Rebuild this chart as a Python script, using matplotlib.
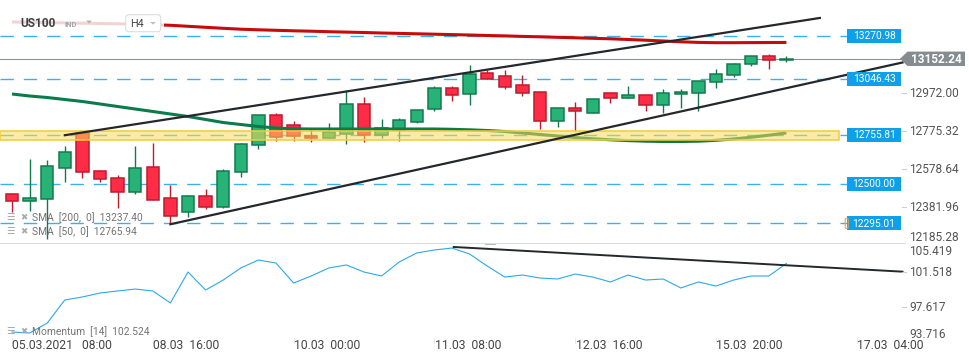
import matplotlib
matplotlib.use('Agg')
import matplotlib.pyplot as plt
import matplotlib.transforms as mtransforms
from matplotlib.patches import Rectangle, Polygon, FancyBboxPatch
from matplotlib.lines import Line2D

plt.rcParams['font.family'] = ['Roboto', 'DejaVu Sans']
plt.rcParams['lines.scale_dashes'] = False

# ---------------- data ----------------
symbol = 'US100'
symbol_type = 'IND'
timeframe = 'H4'

opens  = [12446, 12411, 12420, 12585, 12765, 12566, 12530, 12460, 12587, 12425,
          12353, 12436, 12381, 12560, 12701, 12858, 12806, 12750, 12738, 12759,
          12915, 12755, 12783, 12825, 12889, 12998, 12968, 13077, 13061, 13014,
          12978, 12826, 12894, 12871, 12973, 12947, 12962, 12910, 12968, 12973,
          13030, 13066, 13124, 13165, 13144.5]
highs  = [12455, 12630, 12623, 12699, 12767, 12573, 12546, 12697, 12713, 12495,
          12442, 12474, 12576, 12713, 12859, 12868, 12828, 12790, 12817, 12988,
          12953, 12838, 12842, 12884, 13009, 13009, 13120, 13094, 13094, 13068,
          12978, 12894, 12927, 12941, 12973, 13010, 12962, 12993, 12993, 13035,
          13099, 13129, 13165, 13175, 13165]
lows   = [12356, 12359, 12213, 12512, 12530, 12512, 12376, 12449, 12418, 12295,
          12330, 12370, 12373, 12538, 12684, 12724, 12725, 12720, 12738, 12706,
          12720, 12738, 12725, 12818, 12882, 12934, 12912, 13045, 12996, 12960,
          12787, 12799, 12778, 12871, 12924, 12947, 12882, 12871, 12897, 12882,
          13001, 13059, 13117, 13101, 13134]
closes = [12411, 12425, 12592, 12665, 12561, 12524, 12457, 12582, 12418, 12332,
          12436, 12381, 12566, 12706, 12858, 12746, 12750, 12738, 12769, 12915,
          12755, 12790, 12832, 12884, 12998, 12962, 13072, 13045, 13007, 12973,
          12826, 12894, 12878, 12941, 12947, 12962, 12910, 12973, 12978, 13035,
          13072, 13124, 13165, 13144.5, 13152.24]

sma200 = [13343.9, 13342.4, 13340.8, 13339.3, 13337.7, 13336.1, 13334.6, 13332.5, 13329.9, 13326.8,
          13321.6, 13316.3, 13311.1, 13306.4, 13303.3, 13300.7, 13298.1, 13296.0, 13293.4, 13291.3,
          13289.2, 13286.6, 13284.6, 13282.5, 13280.4, 13278.3, 13276.2, 13273.6, 13271.5, 13268.9,
          13266.8, 13264.2, 13261.6, 13259.0, 13256.4, 13252.8, 13249.1, 13245.0, 13240.8, 13237.7,
          13236.1, 13236.1, 13236.6, 13237.1, 13237.40]
sma50 = [12968.8, 12958.3, 12950.5, 12940.1, 12929.7, 12916.7, 12903.6, 12890.6, 12877.6, 12864.5,
         12851.5, 12835.9, 12820.2, 12809.8, 12799.4, 12791.6, 12787.4, 12786.4, 12786.4, 12786.4,
         12786.4, 12786.4, 12786.4, 12786.4, 12786.4, 12784.8, 12782.2, 12778.5, 12773.3, 12765.5,
         12757.7, 12749.9, 12742.1, 12735.3, 12730.1, 12725.9, 12722.8, 12721.3, 12721.3, 12722.8,
         12727.5, 12734.3, 12743.7, 12754.1, 12765.94]
momentum = [94.75, 94.63, 95.76, 98.38, 98.72, 99.17, 99.40, 99.62, 99.40, 98.04,
            101.55, 99.51, 100.64, 102.01, 102.91, 102.57, 100.30, 101.10, 102.01, 102.35,
            101.55, 101.10, 102.69, 103.71, 104.05, 104.27, 103.59, 102.23, 100.98, 101.21,
            100.87, 100.76, 101.32, 100.98, 100.42, 101.21, 100.64, 100.76, 99.74, 100.42,
            99.96, 100.64, 101.10, 101.10, 102.524]

sma200_label = 'SMA  [200,  0]  13237.40'
sma50_label = 'SMA  [50,  0]  12765.94'
momentum_label = 'Momentum  [14]  102.524'

levels = [13270.98, 13046.43, 12500.00, 12295.01]
zone_level = 12755.81
zone_low, zone_high = 12729.1, 12777.5
last_price = 13152.24

price_ticks = [12972.00, 12775.32, 12578.64, 12381.96, 12185.28]
mom_ticks = [105.419, 101.518, 97.617, 93.716]

x_tick_pos = [0, 8, 16, 24, 32, 40, 48]
x_tick_labels = ['05.03.2021   08:00', '08.03  16:00', '10.03  00:00', '11.03  08:00',
                 '12.03  16:00', '15.03  20:00', '17.03  04:00']

upper_trend_x = [3.0, 45.9]
upper_trend_y = [12754, 13365]
lower_trend_x = [9.0, 50.6]
lower_trend_y = [12290, 13133]
mom_trend_x = [25.1, 50.6]
mom_trend_y = [104.39, 101.59]

# ---------------- layout ----------------
W, H = 970, 364
fig = plt.figure(figsize=(W / 100, H / 100), dpi=100)
fig.patch.set_facecolor('white')
T_px = mtransforms.Affine2D().scale(1.0 / W, -1.0 / H).translate(0, 1) + fig.transFigure

X0, DX = 12.0, 17.6
xlim = (-X0 / DX, (W - X0) / DX)

def px_to_idx(px):
    return (px - X0) / DX

MAIN_H = 243
ax = fig.add_axes([0, 1 - MAIN_H / H, 1, MAIN_H / H])
ax.set_xlim(*xlim)
ax.set_ylim(12192.3, 13458.6)
ax.axis('off')

axm = fig.add_axes([0, 0, 1, (H - MAIN_H) / H])
axm.set_xlim(*xlim)
axm.set_ylim(91.119, 104.841)
axm.axis('off')

def py_price(p):
    return H - ax.transData.transform((0, p))[1]

def py_mom(m):
    return H - axm.transData.transform((0, m))[1]

GREEN, GREEN_E = '#27b277', '#137a4e'
RED, RED_E = '#ff2c47', '#bf1a2e'
BLUE = '#0ea1e9'
DASH_BLUE = '#25a7ee'

# dashed levels
for lv in levels + [zone_level]:
    ax.plot([xlim[0], px_to_idx(848)], [lv, lv], color=DASH_BLUE, lw=1.0,
            dashes=(9.6, 7.2), zorder=1, alpha=0.9)

# last price line
ax.plot([xlim[0], px_to_idx(900)], [last_price, last_price], color='#8d9296', lw=0.8, zorder=1.5)

# candles
for i, (o, h, l, c) in enumerate(zip(opens, highs, lows, closes)):
    up = c >= o
    fc = GREEN if up else RED
    ec = GREEN_E if up else RED_E
    ax.plot([i, i], [l, h], color=ec, lw=1.0, zorder=2, solid_capstyle='butt')
    b = min(o, c)
    hgt = max(abs(c - o), 2.0)
    ax.add_patch(Rectangle((i - 0.35, b), 0.7, hgt, fc=fc, ec=ec, lw=1.1, zorder=2.1))

# moving averages
idx = list(range(len(closes)))
ax.plot(idx, sma200, color='#c70a0a', lw=2.2, zorder=3, solid_capstyle='butt')
ax.plot(idx, sma50, color='#0a7b4b', lw=2.2, zorder=3, solid_capstyle='butt')

# yellow zone
ax.add_patch(Rectangle((xlim[0], zone_low), px_to_idx(839) - xlim[0], zone_high - zone_low,
                       fc=(0.98, 0.86, 0.35, 0.55), ec='#f4cc38', lw=1.1, zorder=4))

# trend lines
ax.plot(upper_trend_x, upper_trend_y, color='#24282c', lw=1.6, zorder=5, clip_on=False)
ax.plot(lower_trend_x, lower_trend_y, color='#24282c', lw=1.6, zorder=5, clip_on=False)

# momentum panel
axm.plot(idx, momentum, color='#2ea8ea', lw=0.8, zorder=2)
axm.plot(mom_trend_x, mom_trend_y, color='#24282c', lw=1.4, zorder=3, clip_on=False)

# header overlay and labels
fig.add_artist(Rectangle((0, 14), 164, 18, transform=T_px, fc='white', ec='none', alpha=0.82, zorder=1))
fig.add_artist(FancyBboxPatch((125.7, 14.7), 35, 17, boxstyle='round,pad=0,rounding_size=3',
                              transform=T_px, fc='white', ec='#dcdcdc', lw=0.8, zorder=1.2))
fig.text(20.5, 23.6, symbol, transform=T_px, fontsize=8.6, fontweight='bold', color='#3d4145',
         va='center', ha='left')
fig.text(65, 24.6, symbol_type, transform=T_px, fontsize=5.5, fontweight='bold', color='#a3a7ab',
         va='center', ha='left')
fig.add_artist(Polygon([(86, 20.6), (92, 20.6), (89, 23.4)], closed=True, transform=T_px,
                       fc='#b0b0b0', ec='none', zorder=2))
fig.text(130, 23.7, timeframe, transform=T_px, fontsize=7.8, color='#444444', va='center', ha='left')
fig.add_artist(Polygon([(150, 22), (156, 22), (153, 24.6)], closed=True, transform=T_px,
                       fc='#c0c0c0', ec='none', zorder=2))

# separator between panels
fig.add_artist(Line2D([0, 905], [243, 243], transform=T_px, color='#dedede', lw=0.8))
fig.add_artist(Line2D([485, 495], [244, 244], transform=T_px, color='#bdbdbd', lw=0.8))

# right price labels
for lv in levels + [zone_level]:
    py = py_price(lv)
    fig.add_artist(Rectangle((846.7, py - 7), 54.3, 14, transform=T_px, fc=BLUE, ec='none', zorder=2))
    fig.text(874, py + 0.3, f'{lv:.2f}', transform=T_px, fontsize=7.3, color='white',
             ha='center', va='center', zorder=3)
py_low = py_price(levels[-1])
fig.add_artist(FancyBboxPatch((845.2, py_low - 5), 3, 10, boxstyle='round,pad=0,rounding_size=1.2',
                              transform=T_px, fc='none', ec='#f0a048', lw=0.8, zorder=2.5))

# last price arrow label
py = py_price(last_price)
fig.add_artist(Polygon([(900, py), (907.5, py - 7.2), (965, py - 7.2), (965, py + 7.2), (907.5, py + 7.2)],
                       closed=True, transform=T_px, fc='#858c90', ec='none', zorder=2))
fig.text(936.5, py + 0.3, f'{last_price:.2f}', transform=T_px, fontsize=8.5, fontweight='bold',
         color='white', ha='center', va='center', zorder=3)

# gray axis labels main
for t in price_ticks:
    py = py_price(t)
    show = min(py, 236.6)
    if py <= 240:
        fig.add_artist(Line2D([902, 906.5], [py, py], transform=T_px, color='#cfcfcf', lw=0.8))
    fig.text(909.5, show + 0.5, f'{t:.2f}', transform=T_px, fontsize=8.6, color='#555555',
             ha='left', va='center')

# gray axis labels momentum
for t in mom_ticks:
    py = py_mom(t)
    show = min(max(py, 250.8), 334.0)
    if 252 < py < 330:
        fig.add_artist(Line2D([902, 906.5], [py, py], transform=T_px, color='#cfcfcf', lw=0.8))
    fig.text(909.5, show + 0.5, f'{t:.3f}', transform=T_px, fontsize=8.6, color='#555555',
             ha='left', va='center')

# x tick labels
for pos, lab in zip(x_tick_pos, x_tick_labels):
    px = ax.transData.transform((pos, 0))[0]
    fig.add_artist(Line2D([px, px], [338, 343], transform=T_px, color='#e3e3e3', lw=0.6))
    fig.text(px + 0.5, 345.5, lab, transform=T_px, fontsize=8.7, color='#454545', ha='left', va='center')

# indicator legends
def legend_row(y, label):
    fig.text(6.5, y, '\u2630', transform=T_px, fontsize=6.8, color='#a0a0a0', ha='left', va='center',
             family='DejaVu Sans')
    fig.text(20.5, y, '\u2716', transform=T_px, fontsize=6.2, color='#ababab', ha='left', va='center',
             family='DejaVu Sans')
    fig.text(31.7, y + 0.3, label, transform=T_px, fontsize=7.4, color='#737373', ha='left', va='center')

legend_row(217.3, sma200_label)
legend_row(231.3, sma50_label)
legend_row(331.7, momentum_label)

fig.savefig('out.png', dpi=100, facecolor='white')
